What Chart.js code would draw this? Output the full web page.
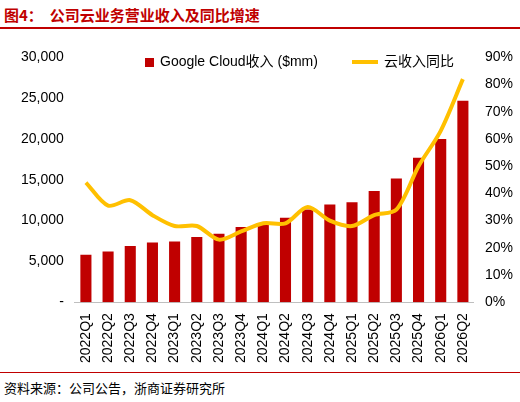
<!DOCTYPE html>
<html><head><meta charset="utf-8">
<script src="https://cdn.jsdelivr.net/npm/chart.js@4/dist/chart.umd.min.js"></script>
<style>
body{margin:0;width:520px;height:402px;background:#fff;font-family:"Noto Sans CJK SC",sans-serif;position:relative;overflow:hidden}
#title{position:absolute;left:4px;top:4px;color:#c00000;font-size:15px;font-weight:bold}
#tline{position:absolute;left:0;top:27px;width:520px;border-top:2px solid #c00000}
#wrap{position:absolute;left:0;top:46px;width:520px;height:320px}
#bline{position:absolute;left:0;top:372px;width:520px;border-top:1px solid #c00000}
#src{position:absolute;left:4px;top:378px;font-size:13px;color:#000}
#leg{position:absolute;top:50px;left:145px;font-size:14px;font-family:Arial,"Noto Sans CJK SC",sans-serif;display:flex;gap:34px;align-items:center}
.sw{display:inline-block;vertical-align:middle;margin-right:6px}
</style></head><body>
<div id="title">图4：&nbsp;&nbsp;公司云业务营业收入及同比增速</div>
<div id="tline"></div>
<div id="wrap"><canvas id="c"></canvas></div>
<div id="leg"><span><span class="sw" style="width:9px;height:9px;background:#c00000"></span>Google Cloud收入 ($mm)</span><span><span class="sw" style="width:26px;height:4px;background:#ffc000"></span>云收入同比</span></div>
<div id="bline"></div>
<div id="src">资料来源：公司公告，浙商证券研究所</div>
<script>
const categories = ['2022Q1','2022Q2','2022Q3','2022Q4','2023Q1','2023Q2','2023Q3','2023Q4','2024Q1','2024Q2','2024Q3','2024Q4','2025Q1','2025Q2','2025Q3','2025Q4','2026Q1','2026Q2'];
const revenue = [5800,6200,6900,7300,7450,8000,8400,9200,9570,10350,11350,11960,12260,13620,15160,17700,20000,24700];
const growth = [44,35.5,37.5,32,28,28,23,26,29,29,35,30,28,32,34,50,63,82];

new Chart(document.getElementById('c'), {
  data: {
    labels: categories,
    datasets: [
      {type:'line', data: growth, yAxisID:'y1', borderColor:'#ffc000', borderWidth:4, pointRadius:0, tension:0.3, order:0},
      {type:'bar', data: revenue, yAxisID:'y', backgroundColor:'#c00000', barPercentage:0.5, categoryPercentage:1, order:1},
    ],
  },
  options: {
    responsive:true, maintainAspectRatio:false, animation:false,
    layout:{padding:{left:18,right:4,top:8}},
    plugins:{legend:{display:false}, tooltip:{enabled:false}},
    scales:{
      x:{grid:{display:false}, border:{color:'#bfbfbf'},
        ticks:{maxRotation:90, minRotation:90, color:'#000', font:{size:14, family:'Arial'}}},
      y:{min:0, max:30000, grid:{display:false}, border:{display:false},
        ticks:{stepSize:5000, color:'#000', font:{size:14, family:'Arial'},
          callback:v=> v===0 ? '-' : v.toLocaleString('en-US')}},
      y1:{position:'right', min:0, max:90, grid:{display:false}, border:{display:false},
        ticks:{stepSize:10, color:'#000', font:{size:14, family:'Arial'}, callback:v=>v+'%'}},
    },
  },
});
</script>
</body></html>
